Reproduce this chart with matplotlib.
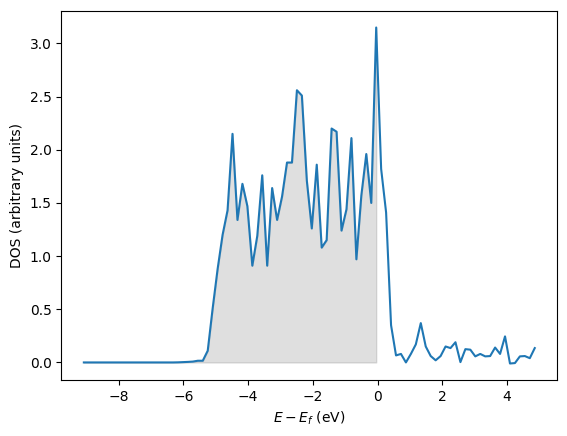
import numpy as np
import matplotlib
matplotlib.use("Agg")
import matplotlib.pyplot as plt

# energy grid relative to the Fermi level (eV), uniform, 92 points
e_min, e_max, n_pts = -9.08, 4.86, 92

# DOS values (arbitrary units)
dos = [
    0.0, 0.0, 0.0, 0.0, 0.0, 0.0, 0.0, 0.0, 0.0, 0.0,
    0.0, 0.0, 0.0, 0.0, 0.0, 0.0, 0.0, 0.0, 0.0, 0.001,
    0.003, 0.005, 0.008, 0.016, 0.016, 0.11, 0.51, 0.88, 1.20, 1.43,
    2.15, 1.34, 1.68, 1.47, 0.91, 1.19, 1.76, 0.91, 1.64, 1.34,
    1.56, 1.88, 1.88, 2.56, 2.51, 1.71, 1.26, 1.86, 1.08, 1.15,
    2.20, 2.17, 1.24, 1.44, 2.11, 0.97, 1.57, 1.96, 1.50, 3.15,
    1.82, 1.41, 0.35, 0.066, 0.08, 0.0, 0.08, 0.17, 0.37, 0.15,
    0.06, 0.02, 0.06, 0.15, 0.135, 0.19, 0.003, 0.125, 0.12, 0.057,
    0.08, 0.057, 0.06, 0.14, 0.08, 0.245, -0.01, -0.006, 0.057, 0.06,
    0.04, 0.135,
]

energies = np.linspace(e_min, e_max, n_pts)
dos = np.array(dos)

fig = plt.figure(figsize=(5.67, 4.36), dpi=100)
ax = fig.add_axes([61.3 / 567, (436 - 380.3) / 436, 496 / 567, 369.6 / 436])

ax.plot(energies, dos)
# occupied states shaded
ax.fill_between(energies, dos, where=energies <= 0, color="gray", alpha=0.25)

ax.set_xlabel("$E - E_f$ (eV)")
ax.set_ylabel("DOS (arbitrary units)")

fig.savefig("out.png", dpi=100)
